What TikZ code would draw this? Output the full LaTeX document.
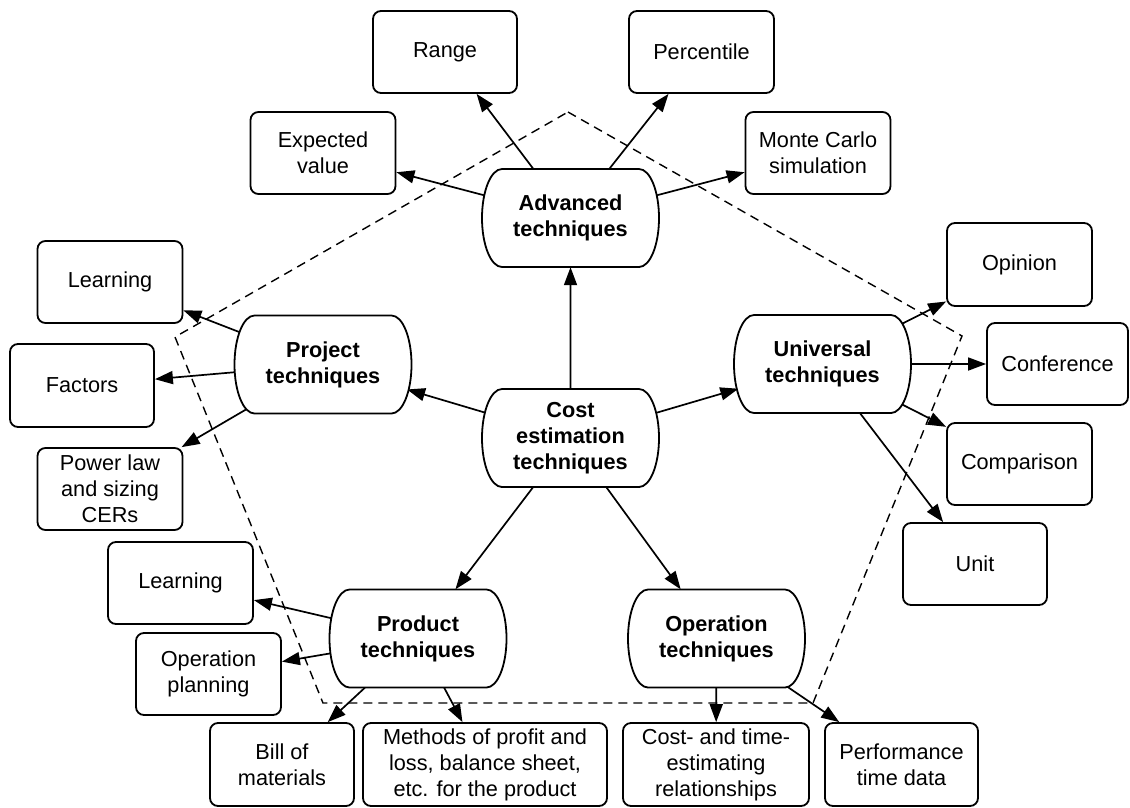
\documentclass[tikz,border=0pt]{standalone}
\usepackage{fontspec}
\setmainfont{Liberation Sans}
\usetikzlibrary{arrows.meta,shapes.misc,calc}
\pgfdeclarelayer{back}
\pgfdeclarelayer{mid}
\pgfsetlayers{back,mid,main}

\begin{document}
\begin{tikzpicture}[x=1pt,y=-1pt,
  every node/.style={font=\fontsize{21.7}{26}\selectfont, align=center},
  leaf/.style={draw, line width=1.8pt, rounded corners=8pt, fill=white,
    inner sep=0pt, minimum width=145pt, minimum height=82pt},
  tech/.style={shape=rounded rectangle, rounded rectangle arc length=90,
    draw=none, inner sep=0pt, minimum width=177pt, minimum height=98pt,
    font=\fontsize{21.7}{26}\selectfont\bfseries},
  techline/.style={line width=1.8pt, fill=white},
  link/.style={line width=1.7pt, -{Triangle[length=18pt,width=13pt]}},
  zone/.style={line width=1.4pt, dash pattern=on 9pt off 6pt}
]
\useasboundingbox (0,0) rectangle (1130,807);

% central technique groups
\node[tech] (cost) at (570.5,438)   {Cost\\estimation\\techniques};
\node[tech] (adv)  at (570.5,218)   {Advanced\\techniques};
\node[tech] (proj) at (323,364.5)   {Project\\techniques};
\node[tech] (univ) at (822.5,364)   {Universal\\techniques};
\node[tech] (prod) at (418,638.5)   {Product\\techniques};
\node[tech] (oper) at (716.5,638.5) {Operation\\techniques};

% advanced techniques
\node[leaf, minimum width=144pt] (range) at (445,52)   {Range};
\node[leaf] (pct)  at (701.5,52) {Percentile};
\node[leaf] (ev)   at (323,153)  {Expected\\value};
\node[leaf] (mc)   at (818,153)  {Monte Carlo\\simulation};

% project techniques
\node[leaf] (learnA) at (110,282)  {Learning};
\node[leaf, minimum width=144pt, minimum height=83pt] (fac) at (82,385.5) {Factors};
\node[leaf] (pow)    at (110,489)  {Power law\\and sizing\\CERs};

% universal techniques
\node[leaf, minimum height=83pt] (opin) at (1019.5,264.5) {Opinion};
\node[leaf, minimum width=141pt] (conf) at (1057.5,364) {Conference};
\node[leaf] (comp) at (1019.5,464) {Comparison};
\node[leaf, minimum width=144pt] (unit) at (975,564) {Unit};

% product techniques
\node[leaf] (learnB) at (180.5,583) {Learning};
\node[leaf] (opplan) at (208.5,674) {Operation\\planning};
\node[leaf, minimum width=144pt, minimum height=83pt] (bill) at (282,764.5) {Bill of\\materials};
\node[leaf, minimum width=244pt, minimum height=83pt] (meth) at (485,764.5)
  {Methods of profit and\\loss, balance sheet,\\etc. for the product};

% operation techniques
\node[leaf, minimum width=186pt, minimum height=83pt] (ctime) at (716,764.5)
  {Cost- and time-\\estimating\\relationships};
\node[leaf, minimum width=153pt, minimum height=83pt] (perf) at (901.5,764.5)
  {Performance\\time data};

% outlines of the technique groups: flat top and bottom, elliptic ends
\begin{pgfonlayer}{mid}
\foreach \n in {cost,adv,proj,univ,prod,oper}{
  \draw[techline] ($(\n.center)+(-68.5,-49)$) -- ($(\n.center)+(68.5,-49)$)
    arc[start angle=90, end angle=-90, x radius=20pt, y radius=49pt]
    -- ($(\n.center)+(-68.5,49)$)
    arc[start angle=270, end angle=90, x radius=20pt, y radius=49pt]
    -- cycle;
}
\end{pgfonlayer}

% connectors
\begin{pgfonlayer}{back}
\draw[link] (cost) -- (adv);
\draw[link] (cost) -- (proj);
\draw[link] (cost) -- (univ);
\draw[link] (cost) -- (prod);
\draw[link] (cost) -- (oper);

\draw[link] (adv) -- (range);
\draw[link] (adv) -- (pct);
\draw[link] (adv) -- (ev);
\draw[link] (adv) -- (mc);

\draw[link] (proj) -- (learnA);
\draw[link] (proj) -- (fac);
\draw[link] (proj) -- (pow);

\draw[link] (univ) -- (opin);
\draw[link] (univ) -- (conf);
\draw[link] (univ) -- (comp);
\draw[link] (univ) -- (unit);

\draw[link] (prod) -- (learnB);
\draw[link] (prod) -- (opplan);
\draw[link] (prod) -- (bill);
\draw[link] (prod) -- (meth);

\draw[link] (oper) -- (ctime);
\draw[link] (oper) -- (perf);
\end{pgfonlayer}

% dashed pentagon around the technique groups
\coordinate (pTop) at (568,112);
\coordinate (pRight) at (962,336);
\coordinate (pBR) at (813,703);
\coordinate (pBL) at (323,703);
\coordinate (pLeft) at (175,337);
\draw[zone] (pTop) -- (pRight) -- (pBR) -- (pBL) -- (pLeft) -- cycle;
\end{tikzpicture}
\end{document}
